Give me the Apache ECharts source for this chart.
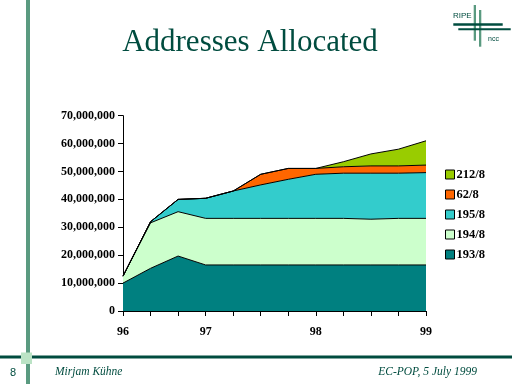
<!DOCTYPE html>
<html>
<head>
<meta charset="utf-8">
<script src="https://cdn.jsdelivr.net/npm/echarts@6/dist/echarts.min.js"></script>
<style>html,body{margin:0;padding:0;background:#fff;}#c{width:512px;height:384px;}</style>
</head>
<body>
<div id="c"></div>
<script>
var categories = ['96','','','97','','','','98','','','','99'];
var s193 = [10000000, 15300000, 19700000, 16500000, 16500000, 16500000, 16500000, 16500000, 16500000, 16500000, 16500000, 16500000];
var s194 = [2500000, 16300000, 15900000, 16700000, 16700000, 16700000, 16700000, 16700000, 16700000, 16400000, 16700000, 16700000];
var s195 = [0, 400000, 4400000, 7200000, 9800000, 12000000, 14000000, 15800000, 16200000, 16500000, 16200000, 16400000];
var s62  = [0, 0, 0, 0, 0, 3800000, 3900000, 2100000, 2300000, 2600000, 2600000, 2700000];
var s212 = [0, 0, 0, 0, 0, 0, 0, 0, 1800000, 4300000, 6000000, 8700000];
var seriesNames = ['193/8','194/8','195/8','62/8','212/8'];
var seriesColors = ['#008080','#CCFFCC','#33CCCC','#FF6600','#99CC00'];
var legendOrder = ['212/8','62/8','195/8','194/8','193/8'];

var chart = echarts.init(document.getElementById('c'), null, {renderer:'canvas'});
var dataSets = [s193, s194, s195, s62, s212];
var series = dataSets.map(function(d, i){
  return {
    name: seriesNames[i], type: 'line', stack: 'total', data: d,
    symbol: 'none', silent: true,
    lineStyle: {color: '#000', width: 1},
    itemStyle: {color: seriesColors[i]},
    areaStyle: {color: seriesColors[i], opacity: 1}
  };
});
function fmt(v){ return String(v).replace(/\B(?=(\d{3})+(?!\d))/g, ','); }
var dark = '#004C3F', mid = '#5A9A80';
chart.setOption({
  animation: false,
  backgroundColor: '#fff',
  grid: {left: 123, right: 86, top: 115.7, bottom: 73, containLabel: false},
  legend: {
    data: legendOrder, orient: 'vertical', left: 445, top: 168, padding: 0,
    icon: 'rect', itemWidth: 9, itemHeight: 9, itemGap: 7,
    itemStyle: {borderColor: '#000', borderWidth: 1},
    textStyle: {fontFamily: 'Liberation Serif', fontWeight: 'bold', fontSize: 12.5, color: '#000', padding: [0,0,0,-3]},
    selectedMode: false
  },
  xAxis: {
    type: 'category', data: categories, boundaryGap: false,
    axisLine: {lineStyle: {color: '#000', width: 1}},
    axisTick: {show: true, interval: 0, length: 5, lineStyle: {color: '#000'}},
    axisLabel: {interval: 0, margin: 15, fontFamily: 'Liberation Serif', fontWeight: 'bold', fontSize: 12, color: '#000'},
    splitLine: {show: false}
  },
  yAxis: {
    type: 'value', min: 0, max: 70000000, interval: 10000000,
    axisLine: {show: true, lineStyle: {color: '#000', width: 1}},
    axisTick: {show: true, length: 5, lineStyle: {color: '#000'}},
    axisLabel: {margin: 8, formatter: fmt, fontFamily: 'Liberation Serif', fontWeight: 'bold', fontSize: 12, color: '#000'},
    splitLine: {show: false}
  },
  series: series,
  graphic: [
    {type: 'rect', shape: {x: 26, y: 0, width: 4, height: 384}, style: {fill: mid}, z: 100},
    {type: 'rect', shape: {x: 0, y: 355.5, width: 512, height: 3}, style: {fill: dark}, z: 101},
    {type: 'rect', shape: {x: 21, y: 352.5, width: 11, height: 11.5}, style: {fill: '#BBE3C5'}, z: 102},
    {type: 'text', x: 250, y: 43, style: {text: 'Addresses Allocated', font: '31px "Liberation Serif"', fill: dark, align: 'center', verticalAlign: 'middle'}, z: 100},
    {type: 'text', x: 13, y: 372.5, style: {text: '8', font: '11px "Liberation Sans"', fill: dark, align: 'center', verticalAlign: 'middle'}, z: 100},
    {type: 'text', x: 55, y: 372, style: {text: 'Mirjam Kühne', font: 'italic 11.5px "Liberation Serif"', fill: dark, align: 'left', verticalAlign: 'middle'}, z: 100},
    {type: 'text', x: 477, y: 372, style: {text: 'EC-POP, 5 July 1999', font: 'italic 11.5px "Liberation Serif"', fill: dark, align: 'right', verticalAlign: 'middle'}, z: 100},
    {type: 'rect', shape: {x: 473.7, y: 5, width: 2.3, height: 35.7}, style: {fill: mid}, z: 100},
    {type: 'rect', shape: {x: 479, y: 10, width: 2.3, height: 36.7}, style: {fill: mid}, z: 100},
    {type: 'rect', shape: {x: 453.3, y: 23.3, width: 49.4, height: 2.4}, style: {fill: dark}, z: 101},
    {type: 'rect', shape: {x: 458.3, y: 28.3, width: 52.4, height: 2}, style: {fill: dark}, z: 101},
    {type: 'text', x: 453, y: 16, style: {text: 'RIPE', font: '8px "Liberation Sans"', fill: dark, align: 'left', verticalAlign: 'middle'}, z: 100},
    {type: 'text', x: 488, y: 39, style: {text: 'ncc', font: '7px "Liberation Sans"', fill: dark, align: 'left', verticalAlign: 'middle'}, z: 100}
  ]
});
</script>
</body>
</html>
